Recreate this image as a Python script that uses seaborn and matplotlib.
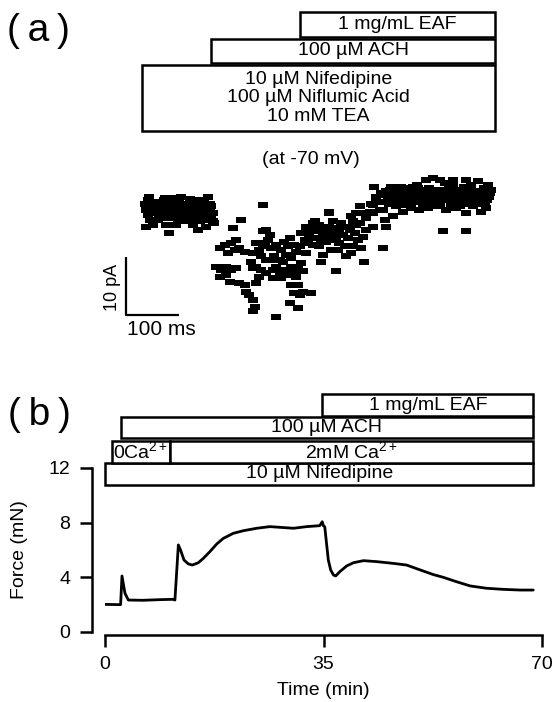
import matplotlib
matplotlib.use("Agg")
import matplotlib.pyplot as plt
import seaborn as sns
import pandas as pd
from matplotlib.patches import Rectangle
from matplotlib.path import Path
from matplotlib.markers import MarkerStyle

# ---- panel (a): whole-cell current at -70 mV (time in ms, current in pA) ----
t_base = [9, 13, 6, 19, 25, 16, 28, 35, 44, 50, 47, 38, 53, 60, 66, 63, 69, 75, 82, 88,
          85, 94, 101, 107, 113, 119, 123, 126, 129, 132, 104, 94, 79, 66, 50, 44, 28, 13, 6, 19,
          63, 82, 107, 119, 72, 41, 60, 97, 116, 135, 3, 22, 31, 41, 57, 72, 79, 91, 101, 110,
          116, 88, 35, 69, 126, 9, 44, 53, 129, 132,
          5, 11, 17, 23, 30, 39, 48, 56, 62, 73, 77, 86, 92, 99, 108, 114, 121, 125]
i_base = [1.7, 0.9, 0, 1.4, 0.6, -0.6, -0.6, 1.1, 1.4, 0.6, -0.6, -1.4, 2.0, 1.1, 0.3, -1.1, 1.4, 0, 0.9, 1.8,
          -0.9, 0.3, 0.6, -0.6, 0.9, 0, 2.3, 1.1, -0.9, -2.0, -3.4, -2.6, -2.0, -2.0, -4.0, -2.6, -1.7, -1.7, -2.9, -2.6,
          -2.6, -1.4, -2.0, -2.9, 2.3, 0.3, -0.3, -1.1, -1.4, -2.3, 1.1, 0, 0.3, 2.0, 0.3, -0.6, 1.1, -0.3, 1.7, 0,
          1.7, 0.6, -0.6, 0.6, 0, -0.9, -0.9, -1.4, 0.6, -0.6,
          0.6, 2.3, 0.3, 1.4, -1.1, 1.7, 0.9, -0.9, 1.7, 0.9, -1.1, 1.1, -1.7, -0.3, 1.4, -0.6, 0.9, -1.7]

t_trough = [170, 186, 145, 154, 167, 176, 182, 192, 173, 160, 138, 148, 157, 167, 176, 145, 164, 182, 195, 201,
            208, 211, 208, 192, 214, 220, 230, 236, 226, 233, 239, 242, 252, 261, 267, 277, 270, 280, 289, 296,
            248, 258, 214, 223, 233, 245, 258, 267, 280, 292, 299, 245, 261, 274, 283, 280, 292, 296, 302, 318,
            286, 277, 292, 252, 226, 233, 208, 220, 204, 302, 289, 214, 223, 239, 252, 264, 274, 286, 226, 208, 157]
i_trough = [-3.2, -1.7, -6.6, -6.0, -5.7, -5.2, -6.6, -7.2, -6.9, -7.5, -9.8, -10.3, -11.2, -10.3, -10.1, -11.5, -12.4, -12.6, -14.1, -14.7,
            -15.5, -16.7, -17.5, -12.9, -12.6, -6.9, -5.7, -5.2, -3.7, -3.4, -4.3, -6.6, -6.0, -6.9, -5.5, -4.9, -7.8, -8.3, -7.2, -6.3,
            -8.0, -8.6, -9.8, -10.3, -10.9, -10.3, -10.9, -10.3, -9.8, -9.8, -9.2, -11.8, -11.8, -11.2, -10.9, -12.9, -12.9, -14.7, -14.1, -14.4,
            -14.4, -16.1, -17.0, -18.4, 0.9, -8.6, -10.1, -11.5, -8.9, -10.6, -11.5, -5.7, -8.0, -8.6, -9.8, -8.9, -6.3, -6.0, -6.3, -7.5, -9.8]

t_rise = [308, 314, 321, 327, 333, 340, 346, 352, 358, 365, 371, 368, 358, 352, 327, 321, 311, 333, 346, 371,
          377, 384, 390, 396, 403, 406, 415, 421, 421, 418, 384, 393, 396, 381, 365, 336, 340, 308, 324, 352,
          365, 314, 299, 336, 362, 412, 434, 453, 409, 415, 428, 403, 434, 440, 447, 437, 305, 330, 343, 355,
          387, 400, 409, 393, 374, 355]
i_rise = [-2.9, -3.7, -2.3, -3.2, -2.6, -4.0, -3.4, -0.6, -2.0, -4.6, -5.7, -6.9, -5.2, -2.9, -4.9, -6.0, -5.7, -6.3, -5.5, -3.7,
          -4.3, -2.9, -3.4, -2.0, -2.6, -5.2, -4.6, -1.4, -3.4, -8.9, -8.0, -7.5, -6.3, -6.3, -10.6, -8.9, -7.8, -7.5, -2.0, -0.3,
          -3.2, -4.6, -4.0, -5.2, -3.7, -6.6, -2.9, -6.6, 0.6, -0.6, -0.3, -0.6, 0.9, 1.7, 0, 4.0, -5.2, -3.7, -4.6, -4.3,
          -4.9, -4.0, -2.3, -1.1, -2.3, -6.9]

t_late = [440, 450, 459, 469, 472, 478, 484, 491, 497, 503, 509, 516, 522, 528, 535, 541, 547, 553, 560, 560,
          566, 572, 579, 585, 591, 597, 604, 610, 616, 623, 629, 632, 635, 642, 648, 651, 657, 535, 547, 585,
          610, 453, 465, 478, 491, 506, 522, 538, 553, 572, 591, 610, 623, 638, 456, 459, 472, 566, 610, 487,
          513, 563, 601, 619, 469, 447, 434, 431, 547, 481, 500, 519, 525, 544, 556, 575, 582, 594, 607, 626,
          638, 645, 462, 506, 531, 588, 613, 654,
          455, 466, 475, 494, 510, 517, 527, 533, 540, 550, 558, 569, 577, 590, 600, 606, 614, 621, 630, 636,
          644, 650, 656, 490, 476, 598, 570, 528, 494, 620]
i_late = [2.3, 2.9, 3.2, 4.0, 2.3, 3.2, 1.4, 2.6, 3.4, 2.0, 4.0, 2.9, 1.7, 3.4, 2.6, 1.1, 3.2, 2.3, 5.2, 1.1,
          3.4, 1.7, 2.9, 4.3, 2.3, 3.4, 1.4, 2.6, 3.7, 1.7, 2.9, 4.9, 1.1, 2.3, 0.3, 4.3, 3.4, 5.2, 5.5, 5.2,
          5.2, 0, 1.1, 0.6, -0.3, 0.3, 0, 0.3, 0.6, 0, 0.3, -0.6, 0.6, -0.3, -1.7, -2.9, -1.1, -3.7, -3.7, 4.0,
          1.4, 2.9, 1.1, 2.9, 1.4, 1.4, -0.6, 1.1, 1.1, 2.3, 2.6, 3.7, 2.3, 2.0, 3.4, 2.6, 1.1, 3.2, 2.9, 2.3,
          3.2, 1.4, 2.0, 1.1, 1.4, 1.7, 1.1, 2.3,
          2.6, 3.4, 1.7, 1.7, 2.6, 4.3, 2.9, 1.7, 3.7, 2.9, 1.7, 2.3, 3.7, 2.9, 2.3, 4.0, 2.0, 3.2, 1.7, 2.6,
          3.7, 1.7, 2.9, 3.7, 2.9, 0.6, 4.6, 0.6, 0.9, 4.3]

a_labels = ["10 µM Nifedipine\n100 µM Niflumic Acid\n10 mM TEA", "100 µM ACH", "1 mg/mL EAF"]

# ---- panel (b): force trace ----
force_t = [0, 2.5, 2.72, 3.2, 3.74, 6, 9, 10.9, 11.2, 11.75, 12.1, 12.65, 13.35, 14.0, 14.95, 15.75, 16.8,
           17.9, 18.95, 20.55, 22.15, 24.3, 26.4, 28.0, 30.2, 32.3, 34.4, 34.8, 34.97, 35.2, 35.77, 36.15,
           36.6, 36.95, 37.6, 38.7, 39.8, 41.4, 43.5, 46.2, 48.3, 50.5, 52.6, 54.2, 56.3, 58.5, 61.1, 63.8,
           66.5, 68.6]
force_mN = [2.02, 2.0, 4.1, 2.83, 2.34, 2.32, 2.37, 2.39, 2.34, 6.37, 6.0, 5.27, 4.98, 4.9, 5.07, 5.39, 5.88,
            6.44, 6.85, 7.22, 7.41, 7.59, 7.71, 7.66, 7.59, 7.71, 7.78, 8.07, 7.78, 7.7, 5.27, 4.54,
            4.17, 4.1, 4.41, 4.83, 5.07, 5.22, 5.15, 5.02, 4.9, 4.54, 4.2, 4.0, 3.68, 3.37, 3.2, 3.12,
            3.07, 3.07]

b_labels = ["10 µM Nifedipine", "0Ca$^{2+}$", "2mM Ca$^{2+}$", "100 µM ACH", "1 mg/mL EAF"]
b_start = [0, 1.1, 10.4, 2.5, 34.8]
b_end = [68.6, 10.4, 68.6, 68.6, 68.6]

sns.set_theme(style="ticks")
plt.rcParams["font.family"] = ["Liberation Sans", "DejaVu Sans"]
plt.rcParams["mathtext.fontset"] = "custom"
plt.rcParams["mathtext.rm"] = "Liberation Sans"
plt.rcParams["mathtext.it"] = "Liberation Sans:italic"
plt.rcParams["mathtext.bf"] = "Liberation Sans:bold"
plt.rcParams["text.color"] = "black"
plt.rcParams["axes.labelcolor"] = "black"

W, H = 554, 702
fig = plt.figure(figsize=(W / 100, H / 100), dpi=100)


def px_box(x0, y0, x1, y1):
    # pixel rectangle (top-left origin) -> figure fraction
    return [x0 / W, 1 - y1 / H, (x1 - x0) / W, (y1 - y0) / H]


# ---------------- panel (a) ----------------
ax_a = fig.add_axes(px_box(100, 0, 500, 345))
ax_a.set_xlim(-81, 674)
ax_a.set_ylim(-23.3, 36.2)
ax_a.axis("off")

cur = pd.DataFrame({
    "t": t_base + t_trough + t_rise + t_late,
    "i": i_base + i_trough + i_rise + i_late,
})
rect = Path([(-1.7, -1), (1.7, -1), (1.7, 1), (-1.7, 1), (-1.7, -1)],
            [Path.MOVETO, Path.LINETO, Path.LINETO, Path.LINETO, Path.CLOSEPOLY])
sns.scatterplot(data=cur, x="t", y="i", ax=ax_a, marker=MarkerStyle(rect), s=42,
                color="black", linewidth=0, legend=False)

# scale bar: 100 ms x 10 pA
sb_x, sb_y = -32, -18.1
ax_a.plot([sb_x, sb_x, sb_x + 100], [sb_y + 10, sb_y, sb_y], color="black", lw=1.6,
          solid_capstyle="butt")
ax_a.text(-58, -13.3, "10 pA", rotation=90, ha="center", va="center", fontsize=13)
ax_a.text(35, -20.7, "100 ms", ha="center", va="center", fontsize=15)

# treatment boxes (axes fraction)
a_x0 = [0.105, 0.2775, 0.5]
a_y = [(0.6203, 0.8116), (0.8174, 0.887), (0.8928, 0.9652)]
for lab, x0, (y0, y1) in zip(a_labels, a_x0, a_y):
    ax_a.add_patch(Rectangle((x0, y0), 0.9875 - x0, y1 - y0, transform=ax_a.transAxes,
                             facecolor="white", edgecolor="black", lw=1.8, clip_on=False))
    ax_a.text((x0 + 0.9875) / 2, (y0 + y1) / 2, lab, transform=ax_a.transAxes, ha="center",
              va="center", fontsize=14, linespacing=1.08)

fig.text(311 / W, 1 - 160 / H, "(at -70 mV)", ha="center", va="center", fontsize=14)
fig.text(38 / W, 1 - 31 / H, "(\u2009a\u2009)", ha="center", va="center", fontsize=28)

# ---------------- panel (b) ----------------
ax_b = fig.add_axes(px_box(105, 468, 542, 632))
sns.lineplot(x=force_t, y=force_mN, ax=ax_b, color="black", lw=2.0, estimator=None, sort=False)
ax_b.set_xlim(0, 70)
ax_b.set_ylim(0, 12)
ax_b.set_xticks([0, 35, 70])
ax_b.set_yticks([0, 4, 8, 12])
sns.despine(ax=ax_b)
ax_b.spines["left"].set_position(("outward", 9.4))
ax_b.spines["left"].set_bounds(0, 12)
ax_b.spines["bottom"].set_position(("outward", 2))
for s in ("left", "bottom"):
    ax_b.spines[s].set_linewidth(1.8)
    ax_b.spines[s].set_color("black")
ax_b.tick_params(direction="out", length=8.6, width=1.8, labelsize=14, pad=7,
                 colors="black", labelcolor="black")
ax_b.set_xlabel("Time (min)", fontsize=14)
ax_b.set_ylabel("Force (mN)", fontsize=14)
ax_b.xaxis.set_label_coords(0.5, -0.305)
ax_b.yaxis.set_label_coords(-0.176, 0.5)

b_rows = [(10.75, 12.4), (12.4, 14.0), (12.4, 14.0), (14.2, 15.7), (15.8, 17.4)]
for lab, t0, t1, (y0, y1) in zip(b_labels, b_start, b_end, b_rows):
    ax_b.add_patch(Rectangle((t0, y0), t1 - t0, y1 - y0, facecolor="white", edgecolor="black",
                             lw=1.8, clip_on=False, zorder=5))
    if "Ca" in lab:
        ax_b.text((t0 + t1) / 2, y0 + 0.3, lab, ha="center", va="baseline", fontsize=14,
                  clip_on=False, zorder=6)
    else:
        ax_b.text((t0 + t1) / 2, (y0 + y1) / 2, lab, ha="center", va="center", fontsize=14,
                  clip_on=False, zorder=6)

fig.text(39 / W, 1 - 415 / H, "(\u2009b\u2009)", ha="center", va="center", fontsize=28)

fig.savefig("out.png", dpi=100)
